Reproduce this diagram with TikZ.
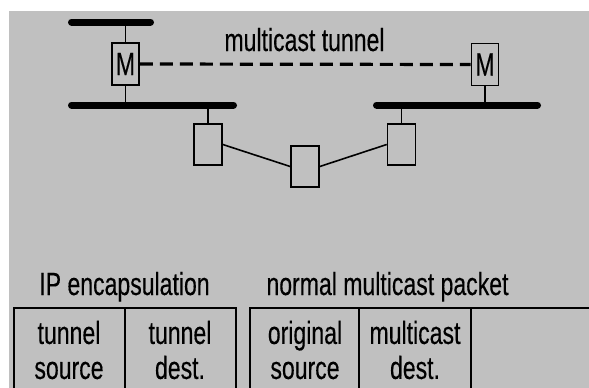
\documentclass[tikz,border=0pt]{standalone}
\usepackage{fontspec}
\setmainfont{Liberation Sans}[FakeStretch=0.72,FakeBold=0.3]
\definecolor{bggray}{RGB}{192,192,192}
\begin{document}
\begin{tikzpicture}[x=1pt,y=-1pt,
  lbl/.style={font=\fontsize{32}{35}\selectfont, inner sep=0pt},
  box/.style={draw, line width=1.6pt, inner sep=0pt, minimum width=27pt, minimum height=42pt},
  bar/.style={line width=7pt, line cap=round},
  thinline/.style={line width=1.6pt},
  tunnel/.style={line width=3.2pt, dash pattern=on 13pt off 7pt},
  tabline/.style={line width=1.8pt}]
\useasboundingbox (0,0) rectangle (589,388);
\fill[white] (0,0) rectangle (589,388);
\fill[bggray] (9,11) rectangle (589,388);
% bars
\coordinate (b1l) at (71.5,22);
\coordinate (b1r) at (150.5,22);
\coordinate (b2l) at (71.5,105);
\coordinate (b2r) at (233.5,105);
\coordinate (b3l) at (376.5,105);
\coordinate (b3r) at (537.5,105);
\draw[bar] (b1l) -- (b1r);
\draw[bar] (b2l) -- (b2r);
\draw[bar] (b3l) -- (b3r);
% boxes
\node[box,lbl] (m1) at (125.5,64) {M};
\node[box,lbl] (m2) at (485,64.5) {M};
\node[box, minimum height=41pt, minimum width=28pt] (lb) at (208,144.5) {};
\node[box, minimum height=41pt, minimum width=28pt] (mb) at (305,166.5) {};
\node[box, minimum height=41pt, minimum width=28pt] (rb) at (401.5,144.5) {};
% stubs
\draw[thinline] (m1.north) -- (m1.north |- b1l);
\draw[thinline] (m1.south) -- (m1.south |- b2l);
\draw[thinline] (m2.south) -- (m2.south |- b3l);
\draw[thinline] (lb.north) -- (lb.north |- b2l);
\draw[thinline] (rb.north) -- (rb.north |- b3l);
% links
\draw[thinline] (lb.east) -- (mb.west);
\draw[thinline] (mb.east) -- (rb.west);
\draw[tunnel] (m1.east) -- (m2.west);
% labels
\node[lbl,anchor=base] (title) at (304.5,51) {multicast tunnel};
\node[lbl,anchor=base] (ipenc) at (124.5,295) {IP encapsulation};
\node[lbl,anchor=base] (normal) at (387.5,295) {normal multicast packet};
% tables
\draw[tabline] (14,388) -- (14,308) -- (236,308) -- (236,388);
\draw[tabline] (125,308) -- (125,388);
\draw[tabline] (250,388) -- (250,308) -- (589,308);
\draw[tabline] (359,308) -- (359,388);
\draw[tabline] (471,308) -- (471,388);
\node[lbl,align=center] (c1) at (69,350) {tunnel\\source};
\node[lbl,align=center] (c2) at (180,350) {tunnel\\dest.};
\node[lbl,align=center] (c3) at (305,350) {original\\source};
\node[lbl,align=center] (c4) at (415,350) {multicast\\dest.};
\end{tikzpicture}
\end{document}
